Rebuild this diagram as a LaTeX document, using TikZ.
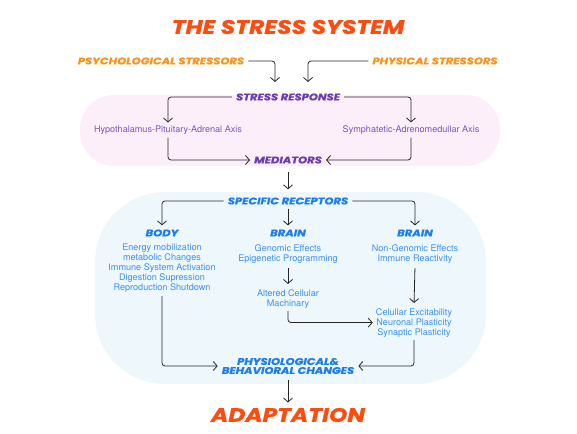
\documentclass[tikz,border=0pt]{standalone}
\usepackage{fontspec}
\usepackage{tikz}
\usetikzlibrary{arrows.meta, positioning}
\newfontfamily\headfont{Poppins}[BoldItalicFeatures={FakeStretch=1.2, FakeBold=1}]
\newfontfamily\bodyfont{TeX Gyre Heros}
\definecolor{titleorange}{HTML}{FF4B0E}
\definecolor{stressorange}{HTML}{F7941D}
\definecolor{respviolet}{HTML}{6A3DB0}
\definecolor{axisviolet}{HTML}{7E55BE}
\definecolor{pinkbg}{HTML}{FCEFFA}
\definecolor{recblue}{HTML}{1C7DEE}
\definecolor{txtblue}{HTML}{3B90F2}
\definecolor{bluebg}{HTML}{EEF8FC}
\tikzstyle{head} = [font=\headfont\bfseries\itshape\fontsize{9.6}{10}\selectfont, inner sep=4pt]
\tikzstyle{txt} = [font=\bodyfont\fontsize{9.1}{10}\selectfont, align=center, inner sep=3pt]
\tikzstyle{arr} = [draw=black!85, line width=0.8pt, rounded corners=3pt, -{Straight Barb[length=4pt,width=9pt]}]

\begin{document}
\begin{tikzpicture}[x=1pt, y=-1pt]
\useasboundingbox (0,0) rectangle (577,433);
% backgrounds
\fill[pinkbg, rounded corners=34pt] (80,95) rectangle (500,166);
\fill[bluebg, rounded corners=70pt] (95,192) rectangle (486,384);

\node[font=\headfont\bfseries\itshape\fontsize{19.5}{22}\selectfont, text=titleorange] (title) at (288,27) {THE STRESS SYSTEM};
\node[head, text=stressorange] (psych) at (161,61) {PSYCHOLOGICAL STRESSORS};
\node[head, text=stressorange] (phys) at (435,61) {PHYSICAL STRESSORS};
\coordinate (in-left) at (275,82);
\coordinate (in-right) at (308,82);

\node[head, text=respviolet] (resp) at (288,97) {STRESS RESPONSE};
\node[txt, text=axisviolet] (hpa) at (168,130) {Hypothalamus-Pituitary-Adrenal Axis};
\node[txt, text=axisviolet] (sam) at (411,130) {Symphatetic-Adrenomedullar Axis};
\node[head, text=respviolet] (med) at (288,160) {MEDIATORS};

\node[head, text=recblue] (spec) at (288,201) {SPECIFIC RECEPTORS};
\node[head, text=recblue] (body) at (162,233) {BODY};
\node[head, text=recblue] (brain-g) at (288,233) {BRAIN};
\node[head, text=recblue] (brain-n) at (415,233) {BRAIN};
\node[txt, text=txtblue, anchor=north] (body-fx) at (162,241) {Energy mobilization\\metabolic Changes\\Immune System Activation\\Digestion Supression\\Reproduction Shutdown};
\node[txt, text=txtblue, anchor=north] (genomic) at (288,241) {Genomic Effects\\Epigenetic Programming};
\node[txt, text=txtblue, anchor=north] (altered) at (288,286) {Altered Cellular\\Machinary};
\node[txt, text=txtblue, anchor=north] (nongenomic) at (415,241) {Non-Genomic Effects\\Immune Reactivity};
\node[txt, text=txtblue, anchor=north] (cellular) at (414,305) {Celullar Excitability\\Neuronal Plasticity\\Synaptic Plasticity};
\node[head, text=recblue, align=center, font=\headfont\bfseries\itshape\fontsize{9.6}{9}\selectfont] (changes) at (288,366) {PHYSIOLOGICAL\&\\BEHAVIORAL CHANGES};

\node[font=\headfont\bfseries\itshape\fontsize{19.5}{24}\selectfont, text=titleorange] (adapt) at (288,415) {ADAPTATION};

% connectors
\draw[arr] (psych.east) -| (in-left);
\draw[arr] (phys.west) -| (in-right);
\draw[arr] (resp.west) -| (hpa.north);
\draw[arr] (resp.east) -| (sam.north);
\draw[arr] (hpa.south) |- (med.west);
\draw[arr] (sam.south) |- (med.east);
\draw[arr, shorten <=4pt, shorten >=4pt] (med.south) -- (spec.north);
\draw[arr] (spec.west) -| (body.north);
\draw[arr] (spec.east) -| (brain-n.north);
\draw[arr] (spec.south) -- (brain-g.north);
\draw[arr, shorten <=2pt, shorten >=2pt] (genomic.south) -- (altered.north);
\draw[arr, shorten <=2pt, shorten >=2pt] (nongenomic.south) -- (cellular.north);
\draw[arr] (altered.south) |- (cellular.west);
\draw[arr] (body-fx.south) |- (changes.west);
\draw[arr] (cellular.south) |- (changes.east);
\draw[arr, shorten <=2pt, shorten >=2pt] (changes.south) -- (adapt.north);
\end{tikzpicture}
\end{document}
